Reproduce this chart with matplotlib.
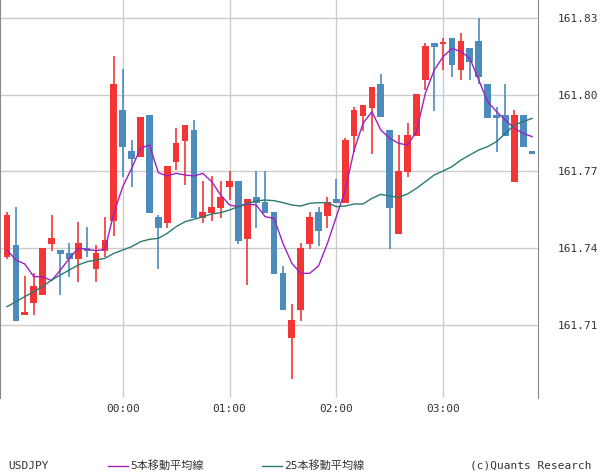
import numpy as np
import matplotlib.pyplot as plt

# pixel readings converted to prices below
def px(y):
    return 161.83 - (np.asarray(y, dtype=float) - 18) * 0.03 / 76.7

# zoom readings: body top, body bottom, wick top, wick bottom, up(red)
left = [
    (525, 650, 517, 656, 1), (615, 843, 500, 843, 0), (816, 825, 708, 825, 1),
    (738, 788, 700, 825, 1), (624, 765, 624, 765, 1), (594, 612, 525, 632, 1),
    (630, 641, 630, 765, 0), (639, 657, 609, 711, 0), (609, 657, 546, 726, 1),
    (624, 632, 561, 651, 0), (639, 687, 615, 726, 1), (600, 633, 531, 650, 1),
    (132, 543, 48, 588, 1), (210, 321, 87, 411, 0), (333, 357, 300, 441, 0),
    (231, 351, 231, 351, 1), (225, 519, 225, 519, 0), (531, 564, 525, 687, 0),
    (378, 549, 378, 564, 1), (309, 366, 264, 390, 1), (255, 303, 255, 435, 1),
    (270, 534, 240, 534, 0), (516, 534, 423, 549, 1), (501, 519, 408, 543, 1),
    (471, 504, 423, 534, 1), (423, 441, 393, 480, 1), (423, 603, 423, 612, 0),
    (477, 597, 477, 735, 1), (471, 489, 393, 564, 0), (486, 519, 393, 519, 0),
]
right = [
    (606, 792, 606, 792, 0), (789, 900, 768, 900, 0), (930, 984, 882, 1107, 1),
    (714, 900, 699, 933, 1), (621, 702, 606, 717, 1), (606, 663, 591, 708, 0),
    (576, 618, 561, 654, 1), (567, 579, 507, 579, 0), (390, 579, 384, 579, 1),
    (300, 378, 291, 426, 1), (285, 318, 285, 363, 1), (231, 294, 231, 432, 1),
    (222, 321, 192, 321, 0), (360, 594, 360, 717, 0), (483, 672, 375, 672, 1),
    (375, 486, 339, 501, 1), (252, 378, 252, 378, 1), (108, 210, 99, 240, 1),
    (99, 111, 99, 303, 0), (99, 102, 84, 180, 1), (84, 165, 84, 201, 0),
    (93, 180, 69, 210, 1), (114, 156, 114, 210, 0), (93, 201, 24, 222, 0),
    (222, 324, 222, 324, 0), (315, 324, 291, 426, 0), (315, 378, 222, 378, 0),
    (315, 516, 300, 516, 1), (315, 411, 315, 411, 0), (423, 432, 423, 432, 0),
]
rows = [(40 + a / 3, 40 + b / 3, 40 + c / 3, 40 + d / 3, u) for a, b, c, d, u in left] + \
       [(10 + a / 3, 10 + b / 3, 10 + c / 3, 10 + d / 3, u) for a, b, c, d, u in right]
body_top = px([r[0] for r in rows])
body_bot = px([r[1] for r in rows])
high = px([r[2] for r in rows])
low = px([r[3] for r in rows])
up = np.array([r[4] for r in rows], dtype=bool)

ma5_y = [630, 660, 672, 710, 710, 722, 690, 655, 625, 628, 632, 628, 520, 440, 385,
         325, 315, 398, 408, 400, 405, 408, 400, 425, 465, 495, 500, 492, 495, 530]
ma5_y2 = [625, 700, 760, 790, 790, 768, 700, 620, 540, 420, 340, 305, 360, 385, 400,
          405, 365, 250, 180, 140, 115, 125, 145, 210, 275, 305, 330, 355, 370, 380]
ma25_y = [800, 785, 770, 755, 740, 720, 705, 690, 675, 665, 660, 655, 640, 630, 620,
          605, 598, 595, 580, 560, 545, 538, 530, 522, 518, 510, 500, 490, 483, 480]
ma25_y2 = [572, 578, 585, 588, 580, 578, 578, 590, 588, 582, 582, 565, 553, 558, 562,
           552, 535, 515, 495, 483, 470, 450, 435, 420, 410, 395, 370, 345, 335, 325]
ma5 = px([40 + v / 3 for v in ma5_y] + [10 + v / 3 for v in ma5_y2])
ma25 = px([40 + v / 3 for v in ma25_y] + [10 + v / 3 for v in ma25_y2])

x_ticks = [13, 25, 37, 49]
x_labels = ['00:00', '01:00', '02:00', '03:00']
y_ticks = [161.71, 161.74, 161.77, 161.80, 161.83]

RED = '#f43535'
BLUE = '#4d8bbd'
plt.rcParams['font.family'] = ['DejaVu Sans Mono', 'Noto Sans CJK JP']

fig = plt.figure(figsize=(6, 4.75), dpi=100)
ax = fig.add_axes([0.0, 1 - 398 / 475, 538 / 600, 398 / 475])
x = np.arange(len(rows))
colors = np.where(up, RED, BLUE)
ax.vlines(x, low, high, colors=colors, linewidth=1.2, zorder=2)
ax.bar(x, np.maximum(body_top - body_bot, 0.0006), bottom=body_bot, width=0.75,
       color=colors, zorder=3)
ax.plot(x, ma5, color='#a020c0', linewidth=1, zorder=4)
ax.plot(x, ma25, color='#2a7a70', linewidth=1, zorder=4)

ax.set_xlim(-0.79, 59.66)
ax.set_ylim(px(398), px(0))
ax.set_xticks(x_ticks)
ax.set_xticklabels(x_labels)
ax.set_yticks(y_ticks)
ax.set_yticklabels([f'{v:.2f}' for v in y_ticks])
ax.yaxis.tick_right()
ax.tick_params(length=0, labelsize=8, colors='#333333', pad=4)
ax.tick_params(axis='y', pad=14)
ax.grid(True, color='#cccccc', linewidth=1)
ax.set_axisbelow(True)
for s in ['top', 'bottom']:
    ax.spines[s].set_visible(False)
for s in ['left', 'right']:
    ax.spines[s].set_color('#888888')

fig.text(8 / 600, 1 - 466 / 475, 'USDJPY', fontsize=8, va='center', color='#333333')
fig.lines.append(plt.Line2D([108 / 600, 128 / 600], [1 - 466 / 475] * 2,
                            color='#a020c0', linewidth=1, transform=fig.transFigure))
fig.text(130 / 600, 1 - 466 / 475, '5本移動平均線', fontsize=8, va='center', color='#333333')
fig.lines.append(plt.Line2D([262 / 600, 282 / 600], [1 - 466 / 475] * 2,
                            color='#2a7a70', linewidth=1, transform=fig.transFigure))
fig.text(284 / 600, 1 - 466 / 475, '25本移動平均線', fontsize=8, va='center', color='#333333')
fig.text(592 / 600, 1 - 466 / 475, '(c)Quants Research', fontsize=8, va='center',
         ha='right', color='#333333')

fig.savefig('out.png', dpi=100)
